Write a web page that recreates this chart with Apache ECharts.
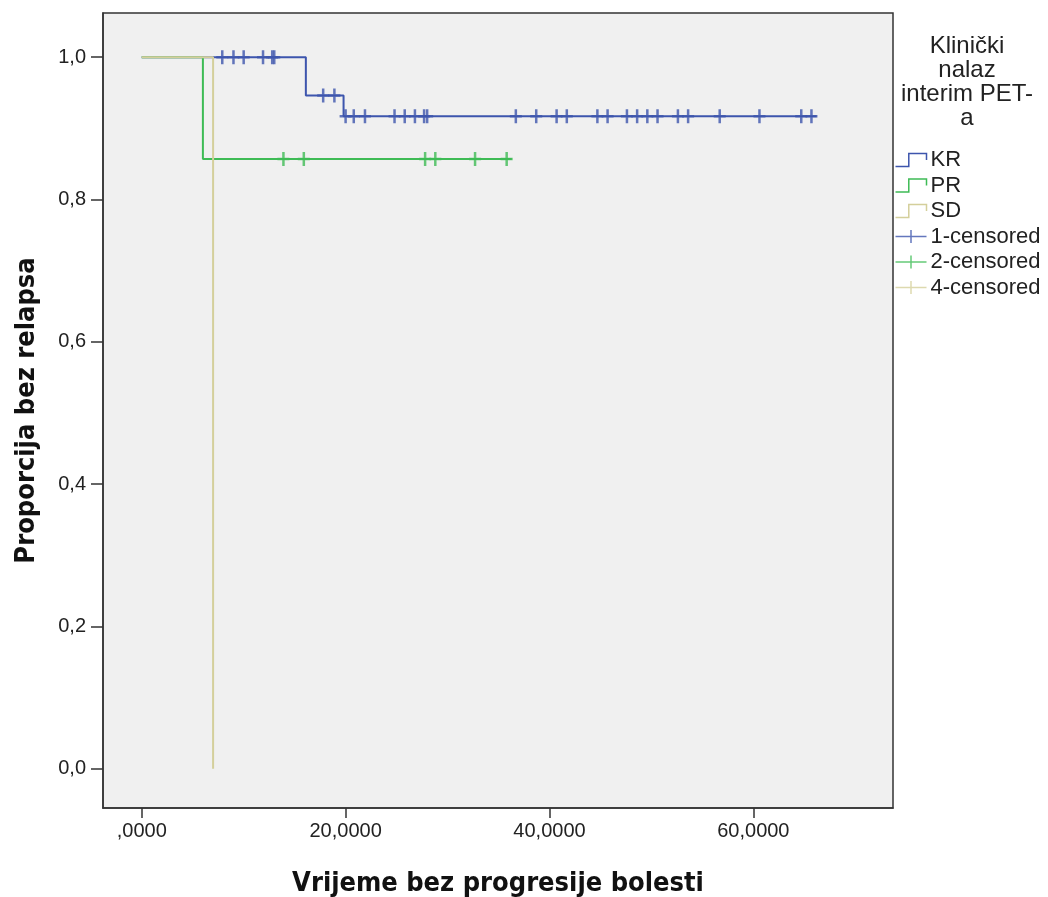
<!DOCTYPE html>
<html>
<head>
<meta charset="utf-8">
<script src="https://cdn.jsdelivr.net/npm/echarts@6/dist/echarts.min.js"></script>
<style>
html,body{margin:0;padding:0;background:#fff;}
#chart{width:1048px;height:897px;}
</style>
</head>
<body>
<div id="chart"></div>
<script>
// ---- data ----
const xTickValues = [0, 20, 40, 60];
const xTickLabels = [',0000', '20,0000', '40,0000', '60,0000'];
const yTickValues = [0, 0.2, 0.4, 0.6, 0.8, 1.0];
const yTickLabels = ['0,0', '0,2', '0,4', '0,6', '0,8', '1,0'];

// Kaplan-Meier step curves: [time, survival]
const krCurve = [[0, 1], [16.1, 0.946], [19.8, 0.917], [66.2, 0.917]];
const prCurve = [[0, 1], [6.0, 0.857], [36.3, 0.857]];
const sdCurve = [[0, 1], [7.0, 0]];

// censored times
const krCensored = [7.9, 9.0, 10.0, 11.9, 12.8, 13.0, 17.8, 18.9, 20.0, 20.8, 21.9, 24.8, 25.8, 26.8, 27.7, 28.0,
  36.7, 38.7, 40.7, 41.7, 44.7, 45.7, 47.6, 48.6, 49.6, 50.6, 52.6, 53.6, 56.7, 60.6, 64.7, 65.7];
const prCensored = [13.9, 15.9, 27.8, 28.8, 32.7, 35.8];
const sdCensored = [];

const legendTitle = 'Klinički\nnalaz\ninterim PET-\na';
const xName = 'Vrijeme bez progresije bolesti';
const yName = 'Proporcija bez relapsa';

// ---- helpers ----
function survAt(curve, t) {
  let s = curve[0][1];
  for (const p of curve) { if (p[0] <= t) s = p[1]; }
  return s;
}
function censorPoints(curve, times) { return times.map(t => [t, survAt(curve, t)]); }

const C_KR = '#3D55AD', C_PR = '#3EBB55', C_SD = '#D4CF9B';
const plus = 'path://M4.75,0H7.25V14H4.75Z M0,5.75H12V8.25H0Z';
const stepIcon = 'path://M0,10H12V0H28V5';
const crossIcon = 'path://M0,7H30M15,0V14';

const chart = echarts.init(document.getElementById('chart'), null, {renderer: 'canvas'});
function lineSeries(name, data, color) {
  return {name, type: 'line', step: 'end', data, showSymbol: false, symbol: 'none',
    lineStyle: {color, width: 2}, itemStyle: {color}, animation: false, silent: true};
}
function censSeries(name, data, color) {
  return {name, type: 'scatter', data, symbol: plus, symbolSize: [12, 14],
    itemStyle: {color}, animation: false, silent: true, z: 3};
}
const legendItem = (name, icon, color) => ({name, icon,
  itemStyle: {color: 'none', borderColor: color, borderWidth: 1.5}});

chart.setOption({
  backgroundColor: '#fff',
  animation: false,
  title: {
    text: legendTitle, left: 967, top: 35, textAlign: 'center', padding: 0,
    textStyle: {fontFamily: 'Liberation Sans', fontSize: 24, fontWeight: 'normal', color: '#222', lineHeight: 23.7}
  },
  legend: {
    orient: 'vertical', left: 893, top: 149, itemWidth: 31, itemHeight: 13, itemGap: 3.5, padding: 0,
    symbolKeepAspect: false,
    textStyle: {fontFamily: 'Liberation Sans', fontSize: 22, color: '#222', padding: [0, 0, 0, -1]},
    selectedMode: false,
    data: [
      legendItem('KR', stepIcon, C_KR),
      legendItem('PR', stepIcon, C_PR),
      legendItem('SD', stepIcon, C_SD),
      legendItem('1-censored', crossIcon, C_KR),
      legendItem('2-censored', crossIcon, C_PR),
      legendItem('4-censored', crossIcon, C_SD)
    ]
  },
  grid: {left: 103, top: 13, width: 790, height: 795, show: true, backgroundColor: '#F0F0F0',
    borderColor: '#333', borderWidth: 1.5, containLabel: false, outerBoundsMode: 'none'},
  xAxis: {
    type: 'value', min: -3.8, max: 73.7,
    name: xName, nameLocation: 'middle', nameGap: 62,
    nameTextStyle: {fontFamily: 'DejaVu Sans Condensed', fontWeight: 'bold', fontSize: 27, color: '#111'},
    axisLine: {show: true, onZero: false, lineStyle: {color: '#333', width: 1.5}},
    axisTick: {show: true, length: 10, lineStyle: {color: '#333', width: 1.5}, customValues: xTickValues},
    axisLabel: {customValues: xTickValues, margin: 13, fontFamily: 'Liberation Sans', fontSize: 20, color: '#222',
      formatter: v => xTickLabels[xTickValues.indexOf(v)] ?? ''},
    splitLine: {show: false}
  },
  yAxis: {
    type: 'value', min: -0.055, max: 1.062,
    name: yName, nameLocation: 'middle', nameGap: 63, nameRotate: 90,
    nameTextStyle: {fontFamily: 'DejaVu Sans Condensed', fontWeight: 'bold', fontSize: 27, color: '#111'},
    axisLine: {show: true, onZero: false, lineStyle: {color: '#333', width: 1.5}},
    axisTick: {show: true, length: 12, lineStyle: {color: '#333', width: 1.5}, customValues: yTickValues},
    axisLabel: {customValues: yTickValues, margin: 17, fontFamily: 'Liberation Sans', fontSize: 20, color: '#222',
      formatter: v => { const i = yTickValues.findIndex(t => Math.abs(t - v) < 1e-9); return i >= 0 ? yTickLabels[i] : ''; }},
    splitLine: {show: false}
  },
  series: [
    lineSeries('KR', krCurve, C_KR),
    lineSeries('PR', prCurve, C_PR),
    lineSeries('SD', sdCurve, C_SD),
    censSeries('1-censored', censorPoints(krCurve, krCensored), C_KR),
    censSeries('2-censored', censorPoints(prCurve, prCensored), C_PR),
    censSeries('4-censored', censorPoints(sdCurve, sdCensored), C_SD)
  ]
});
</script>
</body>
</html>
